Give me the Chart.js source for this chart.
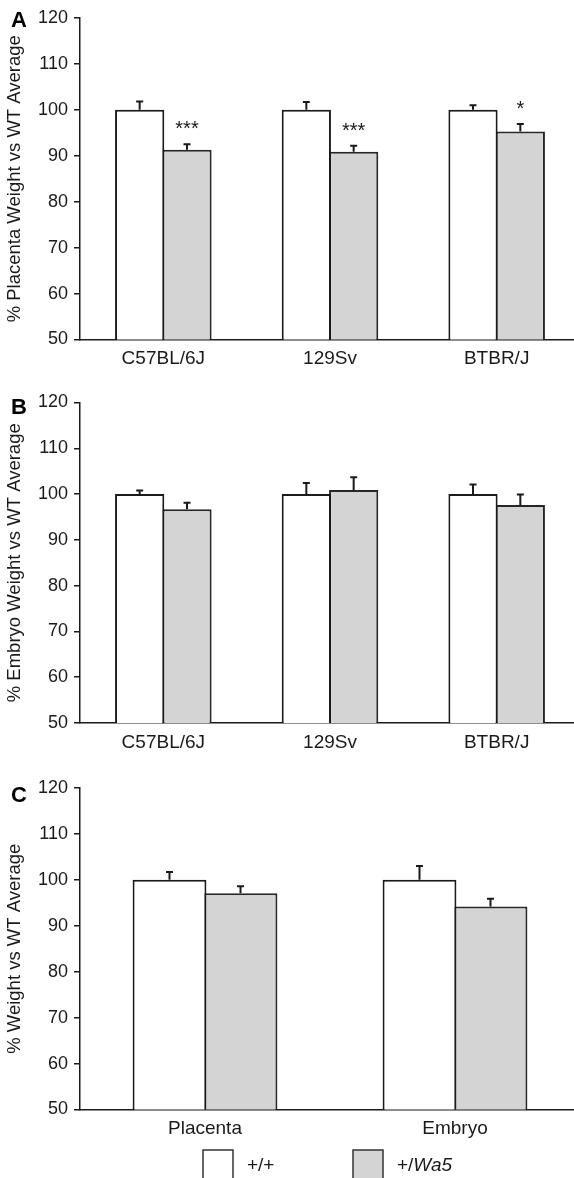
<!DOCTYPE html>
<html>
<head>
<meta charset="utf-8">
<script src="https://cdn.jsdelivr.net/npm/chart.js@4"></script>
<style>
  html, body { margin: 0; padding: 0; background: #fff; overflow: hidden; width: 574px; height: 1178px; }
  canvas { position: absolute; left: 0; }
  #chartA { top: 0; }
  #chartB { top: 384px; }
  #chartC { top: 770px; }
</style>
</head>
<body>
<canvas id="chartA" width="600" height="384"></canvas>
<canvas id="chartB" width="600" height="384"></canvas>
<canvas id="chartC" width="600" height="408"></canvas>
<script>
// data
const strains = ['C57BL/6J', '129Sv', 'BTBR/J'];
const tissues = ['Placenta', 'Embryo'];
const seriesNames = ['+/+', '+/Wa5'];

// A: placenta weight
const placentaWt = [100, 100, 100];
const placentaWtErr = [1.8, 1.7, 1.0];
const placentaWa5 = [91.3, 90.9, 95.3];
const placentaWa5Err = [1.2, 1.3, 1.6];
const placentaStars = ['***', '***', '*'];

// B: embryo weight
const embryoWt = [100, 100, 100];
const embryoWtErr = [0.8, 2.4, 2.1];
const embryoWa5 = [96.7, 100.9, 97.6];
const embryoWa5Err = [1.4, 2.8, 2.3];

// C: pooled
const pooledWt = [100, 100];
const pooledWtErr = [1.7, 3.0];
const pooledWa5 = [97.1, 94.2];
const pooledWa5Err = [1.5, 1.7];

const yTicks = [50, 60, 70, 80, 90, 100, 110, 120];

const FONT = '"Liberation Sans", Arial, sans-serif';
const INK = '#1a1a1a';
const GREY = '#d4d4d4';

Chart.defaults.font.family = FONT;
Chart.defaults.color = INK;

// error bars (upper only) + significance stars
const errorBars = {
  id: 'errorBars',
  afterDatasetsDraw(chart, args, opts) {
    const { ctx, scales: { y } } = chart;
    ctx.save();
    ctx.strokeStyle = INK;
    ctx.lineWidth = 2;
    chart.data.datasets.forEach((ds, i) => {
      chart.getDatasetMeta(i).data.forEach((bar, j) => {
        const top = y.getPixelForValue(ds.data[j] + ds.errors[j]);
        ctx.beginPath();
        ctx.moveTo(bar.x, bar.y);
        ctx.lineTo(bar.x, top);
        ctx.moveTo(bar.x - 3.5, top);
        ctx.lineTo(bar.x + 3.5, top);
        ctx.stroke();
      });
    });
    if (opts.stars) {
      const ds = chart.data.datasets[1];
      ctx.fillStyle = INK;
      ctx.font = `20px ${FONT}`;
      ctx.textAlign = 'center';
      ctx.textBaseline = 'alphabetic';
      chart.getDatasetMeta(1).data.forEach((bar, j) => {
        const top = y.getPixelForValue(ds.data[j] + ds.errors[j]);
        ctx.fillText(opts.stars[j], bar.x, top - 9);
      });
    }
    ctx.restore();
  }
};

// panel letter
const panelLetter = {
  id: 'panelLetter',
  afterDraw(chart, args, opts) {
    const { ctx, chartArea } = chart;
    ctx.save();
    ctx.fillStyle = '#000';
    ctx.font = `bold 22px ${FONT}`;
    ctx.textAlign = 'left';
    ctx.textBaseline = 'alphabetic';
    ctx.fillText(opts.text, 11, chartArea.top + opts.dy);
    ctx.restore();
  }
};

// legend under panel C ("Wa5" in italics)
const boxLegend = {
  id: 'boxLegend',
  afterDraw(chart, args, opts) {
    if (!opts.show) return;
    const { ctx } = chart;
    ctx.save();
    const y0 = chart.height - 28;
    chart.data.datasets.forEach((ds, i) => {
      const bx = opts.x[i];
      ctx.fillStyle = ds.backgroundColor;
      ctx.strokeStyle = '#333';
      ctx.lineWidth = 1.5;
      ctx.fillRect(bx, y0, 30, 40);
      ctx.strokeRect(bx, y0, 30, 40);
      ctx.fillStyle = INK;
      ctx.textBaseline = 'middle';
      ctx.textAlign = 'left';
      let tx = bx + 44;
      const name = ds.label;
      const plain = name.startsWith('+/W') ? '+/' : name;
      ctx.font = `19px ${FONT}`;
      ctx.fillText(plain, tx, y0 + 16);
      if (plain !== name) {
        tx += ctx.measureText(plain).width;
        ctx.font = `italic 19px ${FONT}`;
        ctx.fillText(name.slice(2), tx, y0 + 16);
      }
    });
    ctx.restore();
  }
};

function makePanel(id, labels, wt, wtErr, wa5, wa5Err, yTitle, letter, letterDy, stars, padTop, padBottom, legend) {
  return new Chart(document.getElementById(id), {
    type: 'bar',
    data: {
      labels: labels,
      datasets: [
        { label: seriesNames[0], data: wt, errors: wtErr, backgroundColor: '#ffffff',
          borderColor: INK, borderWidth: 2, borderSkipped: 'bottom' },
        { label: seriesNames[1], data: wa5, errors: wa5Err, backgroundColor: GREY,
          borderColor: '#262626', borderWidth: 2, borderSkipped: 'bottom' }
      ]
    },
    options: {
      responsive: false,
      animation: false,
      layout: { padding: { top: padTop, right: 20, left: 0, bottom: padBottom } },
      // bars touch: slight overlap so the shared edge is one line
      datasets: { bar: { categoryPercentage: 0.568, barPercentage: 1.04 } },
      scales: {
        x: {
          grid: { display: false, drawTicks: false },
          border: { display: true, color: INK, width: 1.5 },
          ticks: { font: { size: 19 }, color: INK, padding: 8 },
          afterFit(scale) { scale.height = 44.5; }
        },
        y: {
          min: 50, max: 120,
          afterBuildTicks(scale) { scale.ticks = yTicks.map(v => ({ value: v })); },
          grid: { drawOnChartArea: false, drawTicks: true, tickLength: 6, color: INK, lineWidth: 1.5 },
          border: { display: true, color: INK, width: 1.5 },
          ticks: { font: { size: 18 }, color: INK, padding: 6 },
          title: { display: true, text: yTitle, font: { size: 18.5 }, color: INK, padding: { top: 4, bottom: 0 } },
          afterFit(scale) { scale.width = 80; }
        }
      },
      plugins: {
        legend: { display: false },
        tooltip: { enabled: false },
        errorBars: { stars: stars },
        panelLetter: { text: letter, dy: letterDy },
        boxLegend: { show: legend, x: [203, 353] }
      }
    },
    plugins: [errorBars, panelLetter, boxLegend]
  });
}

makePanel('chartA', strains, placentaWt, placentaWtErr, placentaWa5, placentaWa5Err,
  '% Placenta Weight vs WT Average', 'A', 9, placentaStars, 18, 0, false);
makePanel('chartB', strains, embryoWt, embryoWtErr, embryoWa5, embryoWa5Err,
  '% Embryo Weight vs WT Average', 'B', 11, null, 18.5, 0.5, false);
makePanel('chartC', tissues, pooledWt, pooledWtErr, pooledWa5, pooledWa5Err,
  '% Weight vs WT Average', 'C', 14, null, 18, 24, true);
</script>
</body>
</html>
